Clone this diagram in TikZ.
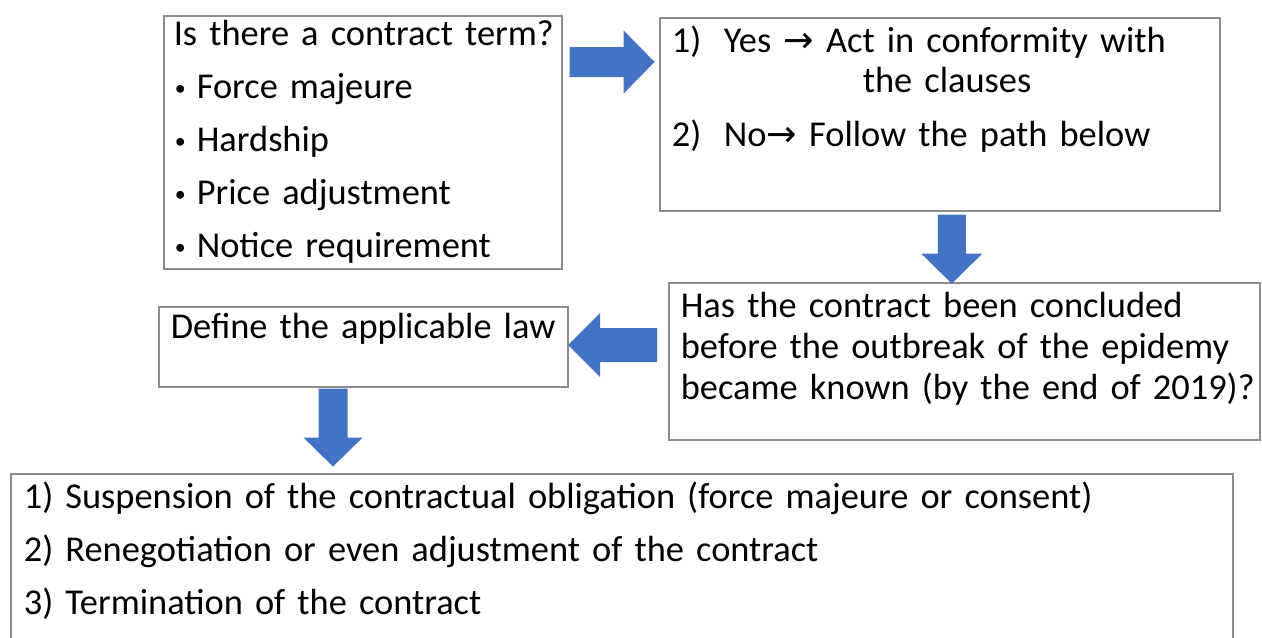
\documentclass[tikz,border=0pt]{standalone}
\usepackage{fontspec}
\setmainfont{Carlito}
\newfontfamily\arrfont{DejaVu Sans}
\usepackage{tikz}
\usepackage{xcolor}
\usetikzlibrary{calc,
	positioning}
\definecolor{arrblue}{HTML}{4472C4}
\definecolor{boxgray}{HTML}{8C8C8C}
\tikzstyle{cbox}=[draw=boxgray, line width=0.8pt, anchor=north west, align=left,
		inner ysep=0pt, font=\fontsize{18.2pt}{26.5pt}\selectfont]
\tikzstyle{barr}=[fill=arrblue]
\newcommand{\rarr}{{\arrfont →}}
\newcommand{\bul}{\hspace*{1pt}\makebox[11pt][l]{\raisebox{1.5pt}{\fontsize{11pt}{11pt}\selectfont\textbullet}}}
% block arrow: tail, angle, length, head length, shaft width, head width
\newcommand{\blockarrow}[6]{\fill[barr, shift={(#1)}, rotate=#2]
	(0,-#5/2) -- (#3-#4,-#5/2) -- (#3-#4,-#6/2) -- (#3,0) -- (#3-#4,#6/2) -- (#3-#4,#5/2) -- (0,#5/2) -- cycle;}

\begin{document}
\begin{tikzpicture}[x=0.5pt, y=-0.5pt]
	\useasboundingbox (0,0) rectangle (1262,637);
	\clip (0,0) rectangle (1262,637);
	% boxes
	\node[cbox, text width=190pt, inner xsep=4.5pt, text height=15pt, text depth=111.5pt] (terms) at (163,15)
		{\mbox{\hspace*{0.5pt}Is there a contract term?}\\ \bul Force majeure\\ \bul Hardship\\ \bul Price adjustment\\ \bul Notice requirement};
	\node[cbox, text width=268pt, inner xsep=6pt, text height=17.5pt, text depth=79pt,
		font=\fontsize{18.2pt}{20pt}\selectfont] (answer) at (659,17)
		{\makebox[26pt][l]{1)}Yes \rarr{} Act in conformity with\\ \hspace*{95.5pt}the clauses\\[7pt]
		\makebox[26pt][l]{2)}No\rarr{} Follow the path below};
	\node[cbox, text width=285.5pt, inner xsep=5pt, text height=17.5pt, text depth=61pt,
		font=\fontsize{18.2pt}{20.5pt}\selectfont] (timing) at (668,282)
		{\hspace*{1pt}Has the contract been concluded\\ \hspace*{1pt}before the outbreak of the epidemy\\
		\mbox{\hspace*{1pt}became known (by the end of 2019)?}};
	\node[cbox, text width=192.5pt, inner xsep=6pt, text height=16pt, text depth=24pt] (law) at (158,306)
		{Define the applicable law};
	\node[cbox, text width=598pt, inner xsep=6.5pt, text height=17.5pt, text depth=76pt] (outcomes) at (10,473)
		{1) Suspension of the contractual obligation (force majeure or consent)\\
		2) Renegotiation or even adjustment of the contract\\
		3) Termination of the contract};
	% arrows
	\blockarrow{$(terms.north east)+(7,47)$}{0}{85}{31}{30}{63}
	\blockarrow{$(answer.south)+(12,3)$}{-90}{69}{30}{28}{61}
	\blockarrow{$(timing.north west)+(-11,63)$}{180}{89}{32}{34}{64}
	\blockarrow{$(law.south west)+(175,1)$}{-90}{78}{29}{29}{59}
\end{tikzpicture}
\end{document}
